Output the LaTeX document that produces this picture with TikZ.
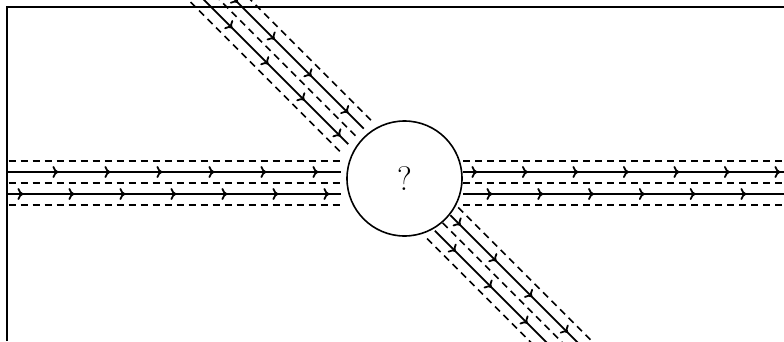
\documentclass[tikz,border=0pt]{standalone}
\usetikzlibrary{arrows.meta,decorations.markings}
\tikzset{
  ribbon/.style={line width=1.8pt},
  rim/.style={ribbon, line width=1.6pt, dash pattern=on 7pt off 5pt},
  flow/.style={postaction={decorate, decoration={markings,
      mark=between positions #1 with {\arrow{To[length=6pt,width=12pt]}}}}}
}
\begin{document}
\begin{tikzpicture}[x=1pt,y=1pt]
  \useasboundingbox (0,0) rectangle (784,341);
  \def\rin{64}\def\rout{58.5}\def\far{420}
  % frame
  \draw[ribbon] (7,0) -- (7,334) -- (784,334);
  % vertex
  \node[ribbon, line width=1.6pt, draw, circle, minimum size=115pt, inner sep=0pt,
        font=\fontsize{34}{40}\selectfont] (vertex) at (404.5,162.5) {?};
  % strands: flow runs left to right and top-left to bottom-right
  \begin{scope}
    \clip (7,0) rectangle (784,341);
    \foreach \ang in {0,-45}{
      \begin{scope}[shift={(vertex.center)}, rotate=\ang]
        % incoming
        \foreach \off in {17.5,-4.5,-26.5}
          \draw[rim] (-\far,\off) -- (-\rin,\off);
        \draw[ribbon, flow={22pt and 340pt step 52pt}] (-\far,6.5) -- (-\rin,6.5);
        \draw[ribbon, flow={39pt and 350pt step 51pt}] (-\far,-15.5) -- (-\rin,-15.5);
        % outgoing
        \foreach \off in {17.5,-4.5,-26.5}
          \draw[rim] (\rout,\off) -- (\far,\off);
        \draw[ribbon, flow={14.5pt and 340pt step 50.5pt}] (\rout,6.5) -- (\far,6.5);
        \draw[ribbon, flow={29.5pt and 340pt step 50.8pt}] (\rout,-15.5) -- (\far,-15.5);
      \end{scope}
    }
  \end{scope}
\end{tikzpicture}
\end{document}
